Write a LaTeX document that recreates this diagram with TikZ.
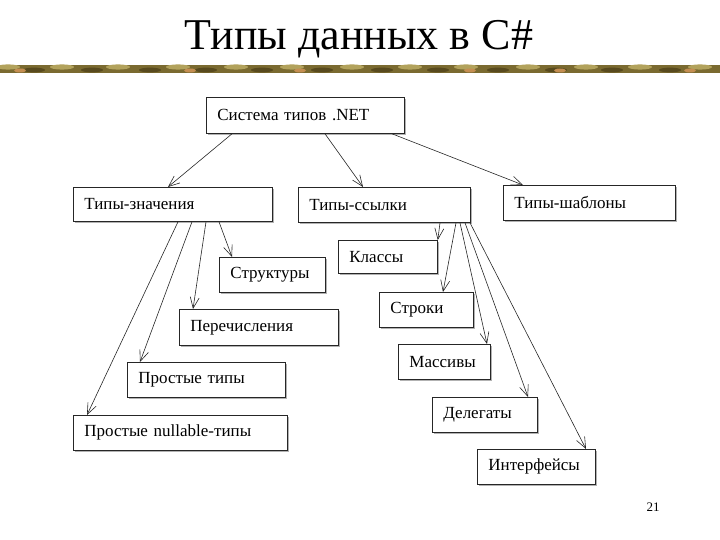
\documentclass[tikz,border=0pt]{standalone}
\usepackage{fontspec}
\setmainfont{Liberation Serif}
\usetikzlibrary{arrows.meta,shadows}
\definecolor{bandbase}{RGB}{122,106,48}
\definecolor{bandlight}{RGB}{178,162,92}
\definecolor{banddark}{RGB}{88,74,30}
\definecolor{bandorange}{RGB}{196,142,82}
\tikzset{
  box/.style={draw=black!85, line width=0.8pt, fill=white, rectangle,
    inner xsep=11pt, inner ysep=0pt, align=left, anchor=north west,
    font=\fontsize{17}{19}\selectfont,
    drop shadow={shadow xshift=2pt, shadow yshift=-2pt, fill=black!30, opacity=1}},
  conn/.style={draw=black!85, line width=0.6pt, -{Straight Barb[length=11pt,width=9pt,line width=0.6pt]}},
}
\newcommand{\mybox}[6]{%
  \pgfmathsetmacro\bw{#4-#2}%
  \pgfmathsetmacro\bh{#5-#3}%
  \pgfmathsetmacro\tw{#4-#2-22}%
  \node[box, minimum width=\bw pt, minimum height=\bh pt, text width=\tw pt] (#1) at (#2,#3) {#6};}
\begin{document}
\begin{tikzpicture}[x=1pt,y=-1pt]
\useasboundingbox (0,0) rectangle (720,540);
% title
\node[font=\fontsize{44}{50}\selectfont, anchor=base] (title) at (359,50) {Типы данных в C\#};
% decorative band
\begin{scope}
\clip (0,65) rectangle (720,73);
\fill[bandbase] (0,65) rectangle (720,73);
\foreach \x in {8,62,118,178,236,292,352,410,466,528,586,640,700}
  \fill[bandlight] (\x,67) ellipse (12 and 2.6);
\foreach \x in {34,92,150,206,262,322,382,438,498,556,612,670}
  \fill[banddark] (\x,70) ellipse (11 and 2.4);
\foreach \x in {20,190,300,470,560,690}
  \fill[bandorange] (\x,70.5) ellipse (6 and 2);
\end{scope}
% boxes
\mybox{net}{206}{97}{404}{133}{Система типов .NET}
\mybox{val}{73}{187}{272}{221}{Типы-значения}
\mybox{ref}{298}{187}{470}{222}{Типы-ссылки}
\mybox{gen}{503}{185}{675}{220}{Типы-шаблоны}
\mybox{cls}{338}{240}{437}{273}{Классы}
\mybox{str}{379}{292}{473}{327}{Строки}
\mybox{arr}{398}{344}{490}{379}{Массивы}
\mybox{del}{432}{397}{537}{432}{Делегаты}
\mybox{itf}{477}{449}{595}{484}{Интерфейсы}
\mybox{sct}{219}{257}{325}{292}{Структуры}
\mybox{enm}{179}{309}{338}{345}{Перечисления}
\mybox{smp}{127}{362}{285}{397}{Простые типы}
\mybox{nul}{73}{415}{287}{450}{Простые nullable-типы}
% page number
\node[font=\fontsize{13}{15}\selectfont] (pg) at (653,507) {21};
% connectors from .NET
\draw[conn] ([xshift=26pt]net.south west) -- ([xshift=95pt]val.north west);
\draw[conn] ([xshift=119pt]net.south west) -- ([xshift=65pt]ref.north west);
\draw[conn] ([xshift=186pt]net.south west) -- ([xshift=20pt]gen.north west);
% from value types
\draw[conn] ([xshift=146pt]val.south west) -- ([xshift=13pt]sct.north west);
\draw[conn] ([xshift=133pt]val.south west) -- ([xshift=14pt]enm.north west);
\draw[conn] ([xshift=119pt]val.south west) -- ([xshift=13pt]smp.north west);
\draw[conn] ([xshift=105pt]val.south west) -- ([xshift=14pt]nul.north west);
% from reference types
\draw[conn] ([xshift=142pt]ref.south west) -- (cls.north east);
\draw[conn] ([xshift=158pt]ref.south west) -- ([xshift=64pt]str.north west);
\draw[conn] ([xshift=162pt]ref.south west) -- ([xshift=89pt]arr.north west);
\draw[conn] ([xshift=167pt]ref.south west) -- ([xshift=96pt]del.north west);
\draw[conn] ([xshift=172pt]ref.south west) -- ([xshift=109pt]itf.north west);
\end{tikzpicture}
\end{document}
